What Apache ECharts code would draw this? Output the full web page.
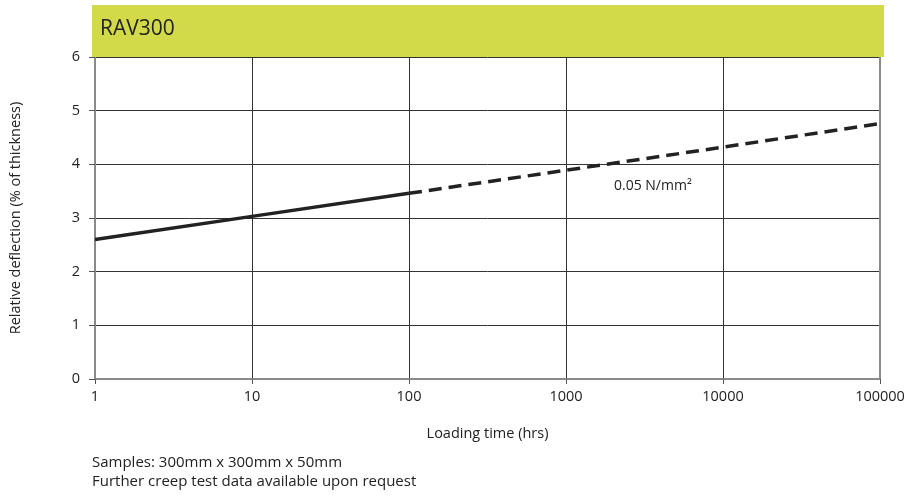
<!DOCTYPE html>
<html>
<head>
<meta charset="utf-8">
<script src="https://cdn.jsdelivr.net/npm/echarts@6/dist/echarts.min.js"></script>
<style>
  html, body { margin: 0; padding: 0; background: #ffffff; }
  #chart { width: 909px; height: 496px; }
</style>
</head>
<body>
<div id="chart"></div>
<script>
// Creep curve for RAV300 at 0.05 N/mm² (loading time in hours, log scale)
const measuredHours = [1, 10, 100];
const measuredDeflection = [2.6, 3.03, 3.46];
const projectedHours = [100, 1000, 10000, 100000];
const projectedDeflection = [3.46, 3.89, 4.32, 4.76];
const yTicks = [0, 1, 2, 3, 4, 5, 6];
const productName = 'RAV300';
const loadLabel = '0.05 N/mm²';
const notes = ['Samples: 300mm x 300mm x 50mm', 'Further creep test data available upon request'];

const FONT = '"Open Sans", Lato, sans-serif';
const chart = echarts.init(document.getElementById('chart'), null, { renderer: 'canvas' });

const toPairs = (xs, ys) => xs.map((x, i) => [x, ys[i]]);

chart.setOption({
  animation: false,
  backgroundColor: '#ffffff',
  textStyle: { fontFamily: FONT },
  grid: { left: 92, right: 29, top: 57, bottom: 117 },
  xAxis: {
    type: 'log',
    logBase: 10,
    min: 1,
    max: 100000,
    name: 'Loading time (hrs)',
    nameLocation: 'middle',
    nameGap: 47,
    nameTextStyle: { fontSize: 14.5, color: '#222', fontFamily: FONT },
    axisLine: { show: true, lineStyle: { color: '#8a8a8a', width: 2 } },
    axisTick: { show: true, inside: false, length: 5, lineStyle: { color: '#555', width: 1 } },
    minorTick: { show: false },
    axisLabel: {
      fontSize: 14.5, color: '#222', margin: 10, fontFamily: FONT,
      formatter: v => String(Math.round(v))
    },
    splitLine: { show: true, lineStyle: { color: '#333', width: 1 } }
  },
  yAxis: [{
    type: 'value',
    min: yTicks[0],
    max: yTicks[yTicks.length - 1],
    interval: 1,
    name: 'Relative deflection (% of thickness)',
    nameLocation: 'middle',
    nameGap: 72,
    nameTextStyle: { fontSize: 14.5, color: '#222', fontFamily: FONT },
    axisLine: { show: true, lineStyle: { color: '#8a8a8a', width: 2 } },
    axisTick: { show: true, inside: false, length: 6, lineStyle: { color: '#555', width: 1 } },
    axisLabel: { fontSize: 14.5, color: '#222', margin: 15, fontFamily: FONT },
    splitLine: { show: true, lineStyle: { color: '#333', width: 1 } }
  }, {
    type: 'value',
    position: 'right',
    min: yTicks[0],
    max: yTicks[yTicks.length - 1],
    interval: 1,
    axisLine: { show: true, lineStyle: { color: '#8a8a8a', width: 2 } },
    axisTick: { show: false },
    axisLabel: { show: false },
    splitLine: { show: false }
  }],
  series: [{
    name: 'measured',
    type: 'line',
    data: toPairs(measuredHours, measuredDeflection),
    symbol: 'none',
    lineStyle: { color: '#222', width: 3.5, type: 'solid' },
    z: 5
  }, {
    name: 'projected',
    type: 'line',
    data: toPairs(projectedHours, projectedDeflection),
    symbol: 'none',
    lineStyle: { color: '#222', width: 3.5, type: [13, 7] },
    z: 5
  }],
  graphic: [{
    type: 'rect',
    shape: { x: 92, y: 5, width: 792, height: 52 },
    style: { fill: '#d3da49' },
    z: 10
  }, {
    type: 'text',
    x: 100,
    y: 29,
    style: { text: productName, fontSize: 21, fill: '#222', fontFamily: FONT, verticalAlign: 'middle' },
    z: 11
  }, {
    type: 'text',
    x: 614,
    y: 186,
    style: { text: loadLabel, fontSize: 14, fill: '#222', fontFamily: FONT, verticalAlign: 'middle' },
    z: 11
  }, {
    type: 'text',
    x: 92,
    y: 463,
    style: { text: notes[0], fontSize: 15, fill: '#222', fontFamily: FONT, verticalAlign: 'middle' },
    z: 11
  }, {
    type: 'text',
    x: 92,
    y: 482,
    style: { text: notes[1], fontSize: 15, fill: '#222', fontFamily: FONT, verticalAlign: 'middle' },
    z: 11
  }]
});
</script>
</body>
</html>
